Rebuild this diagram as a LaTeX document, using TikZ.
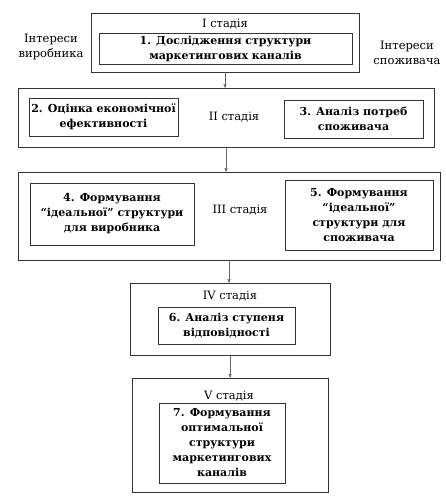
\documentclass[tikz,border=0pt]{standalone}
\usepackage{fontspec}
\setmainfont{DejaVu Serif}
\usetikzlibrary{arrows}
\usetikzlibrary{positioning}

\begin{document}
\begin{tikzpicture}[x=1pt, y=-1pt,
  stage/.style 2 args={rectangle, draw=black!80, line width=0.8pt, minimum width=#1, minimum height=#2, inner sep=0pt},
  task/.style 2 args={rectangle, draw=black!80, line width=0.8pt, minimum width=#1, minimum height=#2, inner sep=1pt, align=center, font=\bfseries\fontsize{11}{15}\selectfont},
  txt/.style={align=center, font=\fontsize{11.5}{15}\selectfont}]
    \tikzset{>=stealth'}

  \useasboundingbox (0,0) rectangle (446,500);

  %% stage frames
  \node[stage={268}{59}] (s1) at (225,42.5) {};
  \node[stage={416}{59}] (s2) at (226,117.5) {};
  \node[stage={422}{88}] (s3) at (229,216) {};
  \node[stage={200}{72}] (s4) at (230,319) {};
  \node[stage={196}{114}] (s5) at (230,435) {};

  %% stage labels
  \node[txt] (l1) at (225,24) {I стадія};
  \node[txt] (l2) at (234,117) {II стадія};
  \node[txt] (l3) at (240,210) {III стадія};
  \node[txt] (l4) at (230,296) {IV стадія};
  \node[txt] (l5) at (229,396) {V стадія};

  %% interests
  \node[txt] (ivyr) at (51,47.5) {Інтереси\\виробника};
  \node[txt] (ispo) at (407,52.5) {Інтереси\\споживача};

  %% tasks
  \node[task={253}{31}] (t1) at (225.5,48.5) {1. Дослідження структури\\маркетингових каналів};
  \node[task={149}{38}] (t2) at (103.5,117) {2. Оцінка економічної\\ефективності};
  \node[task={139}{38}] (t3) at (353.5,119) {3. Аналіз потреб\\споживача};
  \node[task={164}{62}] (t4) at (112,214) {4. Формування\\“ідеальної” структури\\для виробника};
  \node[task={148}{70}] (t5) at (359,215) {5. Формування\\“ідеальної”\\структури для\\споживача};
  \node[task={137}{37}] (t6) at (226.5,325.5) {6. Аналіз ступеня\\відповідності};
  \node[task={126}{80}] (t7) at (222,443) {7. Формування\\оптимальної\\структури\\маркетингових\\каналів};

  %% stage arrows
  \foreach \step/\next in {1/2,2/3,3/4,4/5}
    \draw[->, draw=black!60, thin] (s\step.south) -- (s\step.south |- s\next.north);

\end{tikzpicture}
\end{document}
